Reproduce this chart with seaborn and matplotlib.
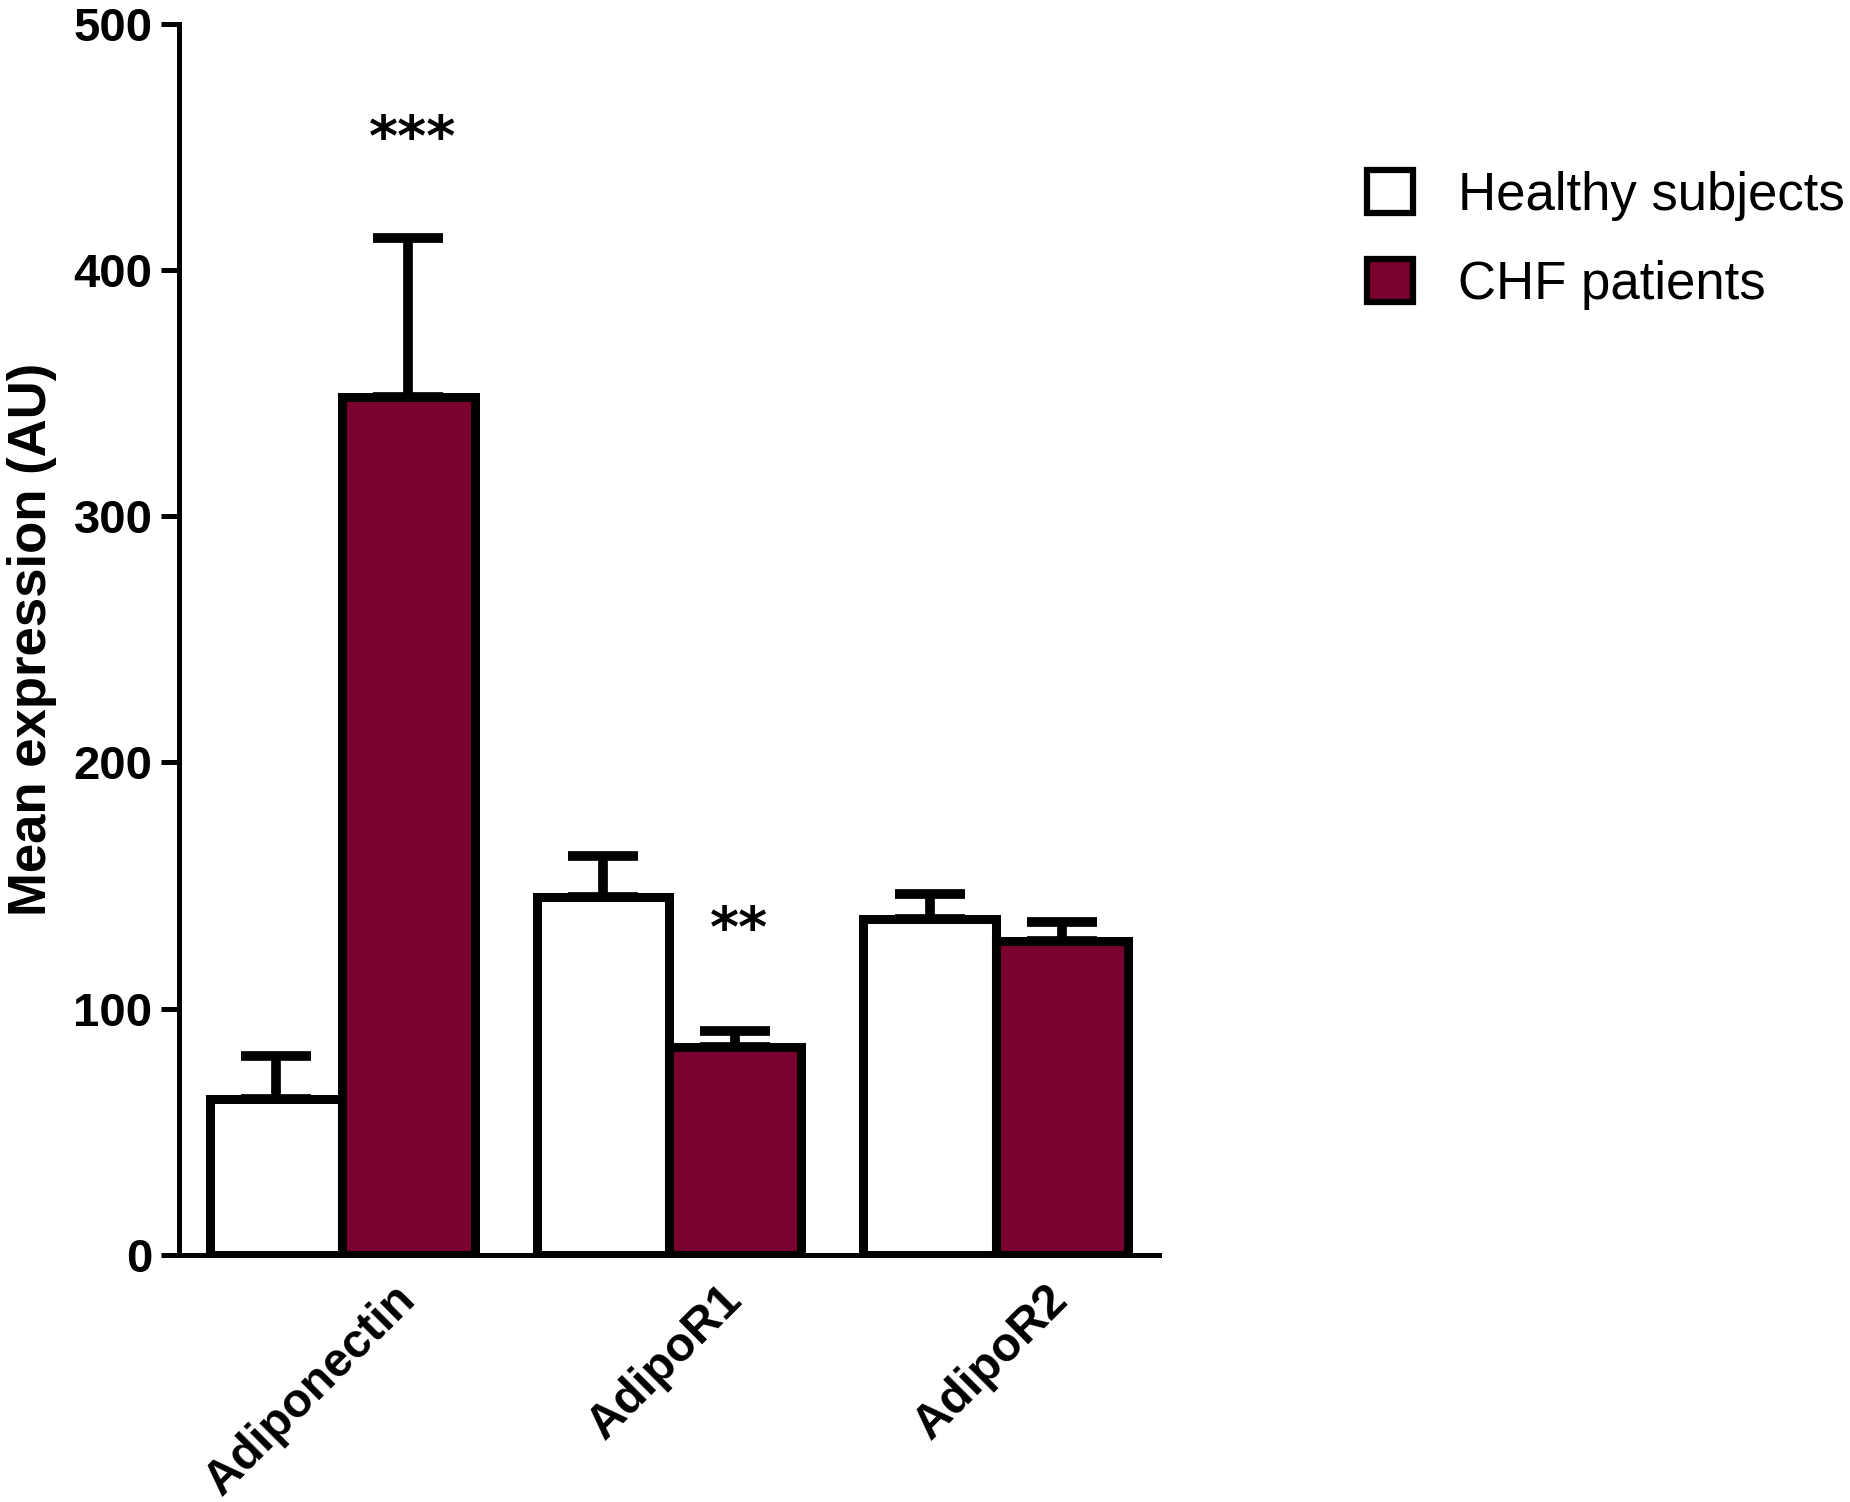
import numpy as np
import pandas as pd
import matplotlib
matplotlib.use("Agg")
import matplotlib.pyplot as plt
import matplotlib.transforms as mtransforms
from matplotlib.patches import Patch
import seaborn as sns

# ---- data ----
genes = ["Adiponectin", "AdipoR1", "AdipoR2"]
groups = ["Healthy subjects", "CHF patients"]
healthy_mean = [63.5, 145.2, 136.3]
healthy_sem = [17.3, 16.9, 10.1]
chf_mean = [348.5, 84.6, 127.6]
chf_sem = [64.5, 6.3, 7.7]
sig_marks = ["***", "**", ""]
sig_y = [446.5, 125.5, None]
y_ticks = [0, 100, 200, 300, 400, 500]

palette = {"Healthy subjects": "#ffffff", "CHF patients": "#7a0030"}

df = pd.DataFrame({
    "gene": genes * 2,
    "group": [groups[0]] * len(genes) + [groups[1]] * len(genes),
    "mean": healthy_mean + chf_mean,
})

sns.set_theme(style="ticks")
plt.rcParams["font.family"] = ["Liberation Sans", "DejaVu Sans"]
for key in ("text.color", "axes.labelcolor", "xtick.color", "ytick.color",
            "axes.edgecolor"):
    plt.rcParams[key] = "black"

W, H = 1850, 1502
fig = plt.figure(figsize=(W / 100, H / 100), dpi=100)
ax = fig.add_axes([179 / W, 1 - 1255 / H, (1159 - 179) / W, (1255 - 23.6) / H])

sns.barplot(data=df, x="gene", y="mean", hue="group", order=genes,
            hue_order=groups, palette=palette, saturation=1, width=0.81,
            errorbar=None, edgecolor="black", linewidth=6.5, legend=False,
            ax=ax, zorder=2)

# upward SEM bars
for cont, means, sems in zip(ax.containers, [healthy_mean, chf_mean],
                             [healthy_sem, chf_sem]):
    xs = [b.get_x() + b.get_width() / 2 for b in cont]
    ax.errorbar(xs, means, yerr=[np.zeros(len(sems)), sems], fmt="none",
                ecolor="black", elinewidth=7, capsize=25, capthick=7,
                zorder=3)

# significance marks above the CHF bars
chf_x = [b.get_x() + b.get_width() / 2 for b in ax.containers[1]]
nudge = mtransforms.ScaledTranslation(0.04, 0, fig.dpi_scale_trans)
for x, mark, y in zip(chf_x, sig_marks, sig_y):
    if mark:
        ax.text(x, y, mark, ha="center", va="baseline", fontsize=40,
                fontweight="bold", family="DejaVu Sans", color="black",
                transform=ax.transData + nudge)

ax.set_xlim(-0.5, 2.5)
ax.set_ylim(0, 500)
sns.despine(ax=ax)
for side in ("left", "bottom"):
    ax.spines[side].set_linewidth(3.6)
    ax.spines[side].set_color("black")

ax.set_yticks(y_ticks)
ax.set_yticklabels([str(t) for t in y_ticks], fontsize=34, fontweight="bold")
ax.tick_params(axis="y", length=13, width=3.6, pad=6, colors="black")

ax.set_xticks(range(len(genes)))
ax.set_xticklabels(genes, rotation=45, ha="right", va="center",
                   rotation_mode="anchor", fontsize=34.5, fontweight="bold")
ax.tick_params(axis="x", length=0, pad=27, colors="black")
shift = mtransforms.ScaledTranslation(0.66, 0, fig.dpi_scale_trans)
for lbl in ax.get_xticklabels():
    lbl.set_transform(lbl.get_transform() + shift)

ax.set_xlabel("")
ax.set_ylabel("Mean expression (AU)", fontsize=38, fontweight="bold",
              color="black")
ax.yaxis.set_label_coords(-0.124, 0.5)

handles = [Patch(facecolor=palette[g], edgecolor="black", linewidth=4.5,
                 label=g) for g in groups]
fig.legend(handles=handles, loc="upper left",
           bbox_to_anchor=(1367 / W, 1 - 170 / H), frameon=False,
           fontsize=38, handlelength=0.87, handleheight=0.87,
           handletextpad=0.85, labelspacing=0.73, borderpad=0,
           borderaxespad=0, labelcolor="black")

fig.savefig("out.png", dpi=100, facecolor="white")
